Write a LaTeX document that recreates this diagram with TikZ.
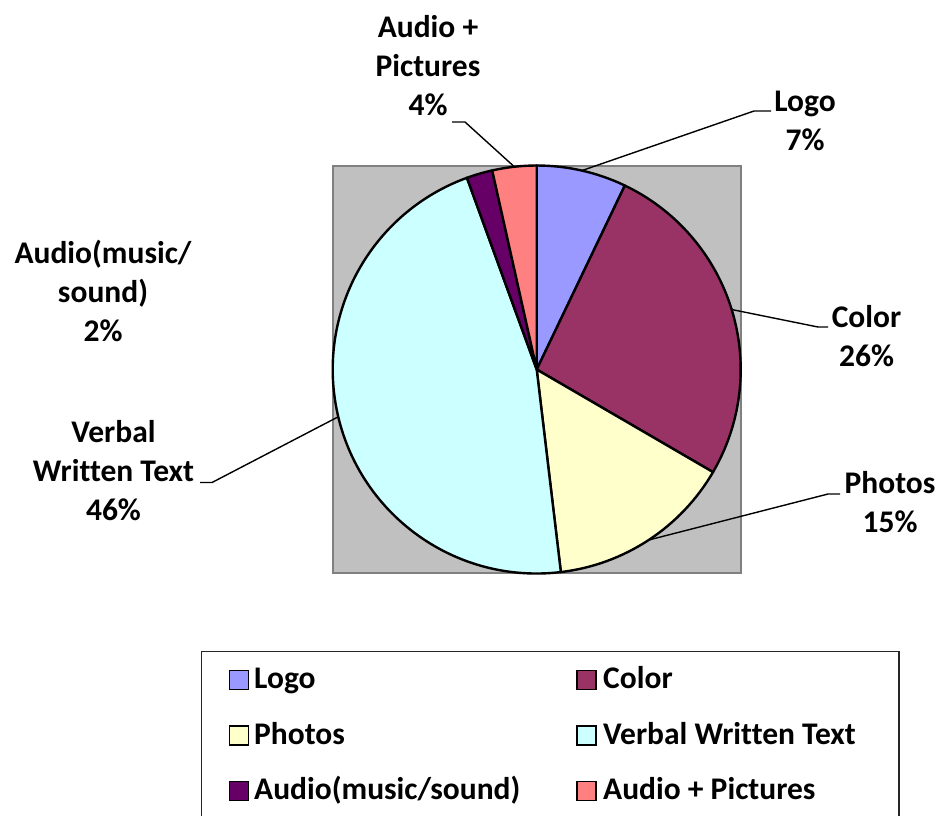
\documentclass[tikz,border=0pt]{standalone}
\usepackage{fontspec}
\setmainfont{Carlito}[Ligatures=NoCommon]
\definecolor{cLogo}{HTML}{9999FF}
\definecolor{cColor}{HTML}{993366}
\definecolor{cPhotos}{HTML}{FFFFCC}
\definecolor{cVerbal}{HTML}{CCFFFF}
\definecolor{cMusic}{HTML}{660066}
\definecolor{cAudioPic}{HTML}{FF8080}
\definecolor{plotgray}{HTML}{C0C0C0}
\definecolor{plotedge}{HTML}{808080}
\begin{document}
\begin{tikzpicture}[x=1pt,y=-1pt,
  slice/.style={draw=black,line width=2.4pt,line join=round},
  leader/.style={draw=black,line width=1.4pt},
  lbl/.style={font=\fontsize{31.5}{39}\selectfont\bfseries,align=center,inner sep=0pt,anchor=base},
  key/.style={draw=black,line width=1.7pt,minimum size=19pt,inner sep=0pt},
  keytext/.style={font=\fontsize{31.5}{36}\selectfont\bfseries,inner sep=0pt,anchor=base west}]
\useasboundingbox[fill=white] (0,0) rectangle (939,815);

% plot area
\draw[fill=plotgray,draw=plotedge,line width=2.2pt] (332.7,165.7) rectangle (740.7,573.3);

% pie slices, clockwise from the top
\coordinate (pc) at (536.7,369.5);
\def\R{204pt}
\filldraw[slice,fill=cLogo]     (pc) -- ++(90:\R)    arc[start angle=90,   end angle=64.4,   radius=\R] -- cycle;
\filldraw[slice,fill=cColor]    (pc) -- ++(64.4:\R)  arc[start angle=64.4, end angle=-30.2,  radius=\R] -- cycle;
\filldraw[slice,fill=cPhotos]   (pc) -- ++(-30.2:\R) arc[start angle=-30.2,end angle=-83.2,  radius=\R] -- cycle;
\filldraw[slice,fill=cVerbal]   (pc) -- ++(-83.2:\R) arc[start angle=-83.2,end angle=-250,   radius=\R] -- cycle;
\filldraw[slice,fill=cMusic]    (pc) -- ++(110:\R)   arc[start angle=110,  end angle=102.6,  radius=\R] -- cycle;
\filldraw[slice,fill=cAudioPic] (pc) -- ++(102.6:\R) arc[start angle=102.6,end angle=90,     radius=\R] -- cycle;

% leader anchor points on the rim (slice mid-angles)
\path (pc) ++(77.2:\R)   coordinate (logoA);
\path (pc) ++(17.1:\R)   coordinate (colorA);
\path (pc) ++(-56.7:\R)  coordinate (photosA);
\path (pc) ++(-166.6:\R) coordinate (verbalA);
\path (pc) ++(96.3:\R)   coordinate (apicA);

% labels (anchored at the baseline of their last line)
\node[lbl] (logoL)   at (805,150)   {Logo\\7\%};
\node[lbl] (colorL)  at (866.5,366) {Color\\26\%};
\node[lbl] (photosL) at (890,532)   {Photos\\15\%};
\node[lbl] (verbalL) at (113.5,520) {Verbal\\Written Text\\46\%};
\node[lbl] (musicL)  at (103,341.7) {Audio(music/\\sound)\\2\%};
\node[lbl] (apicL)   at (428,115)   {Audio +\\Pictures\\4\%};

% leader lines
\coordinate (logoK) at (754,111);   \coordinate (logoE) at (771,111);
\coordinate (colorK) at (818,327);  \coordinate (colorE) at (828,327);
\coordinate (photosK) at (828,494); \coordinate (photosE) at (840,494);
\coordinate (verbalK) at (212,482.5); \coordinate (verbalE) at (200,482.5);
\coordinate (apicK) at (465,122);   \coordinate (apicE) at (452,122);
\draw[leader] (logoA) -- (logoK) -- (logoE);
\draw[leader] (colorA) -- (colorK) -- (colorE);
\draw[leader] (photosA) -- (photosK) -- (photosE);
\draw[leader] (verbalA) -- (verbalK) -- (verbalE);
\draw[leader] (apicA) -- (apicK) -- (apicE);

% legend frame (runs past the lower edge)
\draw[black!85,line width=1.5pt] (201.7,830) -- (201.7,651.7) -- (899,651.7) -- (899,830);

% legend entries
\node[key,fill=cLogo]     (k1) at (239,680) {};
\node[key,fill=cColor]    (k2) at (586.5,680) {};
\node[key,fill=cPhotos]   (k3) at (239,735.5) {};
\node[key,fill=cVerbal]   (k4) at (586.5,735.5) {};
\node[key,fill=cMusic]    (k5) at (239,791) {};
\node[key,fill=cAudioPic] (k6) at (586.5,791) {};
\node[keytext] (t1) at (254,688.3) {Logo};
\node[keytext] (t2) at (603,688.3) {Color};
\node[keytext] (t3) at (254,744) {Photos};
\node[keytext] (t4) at (603,744) {Verbal Written Text};
\node[keytext] (t5) at (254,799.3) {Audio(music/sound)};
\node[keytext] (t6) at (603,799.3) {Audio + Pictures};
\end{tikzpicture}
\end{document}
